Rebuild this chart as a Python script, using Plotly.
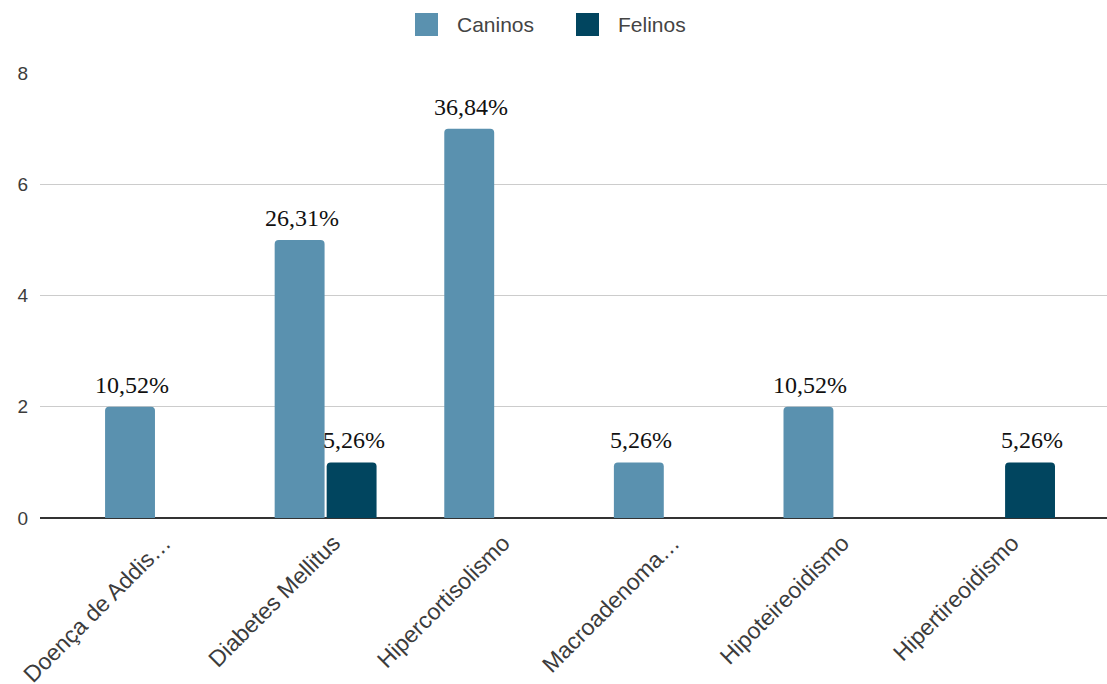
import plotly.graph_objects as go

# Endocrinopatias por espécie
categorias = ["Doença de Addis…", "Diabetes Mellitus", "Hipercortisolismo",
              "Macroadenoma…", "Hipoteireoidismo", "Hipertireoidismo"]
caninos = [2, 5, 7, 1, 2, 0]
felinos = [0, 1, 0, 0, 0, 1]
rotulos_caninos = ["10,52%", "26,31%", "36,84%", "5,26%", "10,52%", ""]
rotulos_felinos = ["", "5,26%", "", "", "", "5,26%"]
y_ticks = [0, 2, 4, 6, 8]

COR_CAN = "#5a91af"
COR_FEL = "#01455f"
SANS = "Arial, Liberation Sans, sans-serif"

W, H = 1107, 684
L, R, T, B = 40, 0, 73, 166
plot_w = W - L - R
plot_h = H - T - B


def px_to_paper(x, y):
    return (x - L) / plot_w, (H - B - y) / plot_h


fig = go.Figure()
for nome, vals, cor in [("Caninos", caninos, COR_CAN), ("Felinos", felinos, COR_FEL)]:
    fig.add_trace(go.Bar(
        name=nome, x=categorias, y=vals,
        marker=dict(color=cor, line=dict(width=0), cornerradius=4),
        showlegend=False, hoverinfo="x+y",
    ))

# value labels above the bars
annots = []
for rotulos, vals, shift in [(rotulos_caninos, caninos, -26), (rotulos_felinos, felinos, 26)]:
    for cat, v, t in zip(categorias, vals, rotulos):
        if not t:
            continue
        annots.append(dict(
            x=cat, y=v, xref="x", yref="y", text=t, showarrow=False,
            xanchor="center", yanchor="bottom", xshift=shift + 2, yshift=7,
            font=dict(family="Liberation Serif", size=24, color="#111"),
        ))

# custom legend at the top
shapes = []
for nome, cor, sx, tx in [("Caninos", COR_CAN, 415, 455), ("Felinos", COR_FEL, 576, 616)]:
    x0, y0 = px_to_paper(sx, 36)
    x1, y1 = px_to_paper(sx + 23, 13)
    shapes.append(dict(type="rect", xref="paper", yref="paper", x0=x0, x1=x1, y0=y0, y1=y1,
                       fillcolor=cor, line=dict(width=0), layer="above"))
    ax, ay = px_to_paper(tx, 24)
    annots.append(dict(x=ax, y=ay, xref="paper", yref="paper", text=nome, showarrow=False,
                       xanchor="left", yanchor="middle",
                       font=dict(family=SANS, size=21, color="#444")))

fig.update_layout(
    width=W, height=H,
    margin=dict(l=L, r=R, t=T, b=B),
    paper_bgcolor="white", plot_bgcolor="white",
    barmode="group", bargap=0.387, bargroupgap=0.04,
    showlegend=False,
    annotations=annots, shapes=shapes,
    font=dict(family=SANS, color="#444"),
)
fig.update_xaxes(
    type="category", range=[-0.684, 5.607], tickangle=-45,
    tickfont=dict(family=SANS, size=23, color="#3c3c3c"),
    showgrid=False, showline=False, ticks="", ticklen=0,
    ticklabelstandoff=6, ticklabelshift=8, automargin=False,
)
fig.update_yaxes(
    range=[0, 8], tickvals=y_ticks, ticktext=[str(v) for v in y_ticks],
    showgrid=True, gridcolor="#cccccc", gridwidth=1,
    zeroline=True, zerolinecolor="#333333", zerolinewidth=2,
    showline=False, ticks="", ticklabelstandoff=11, automargin=False,
    tickfont=dict(family=SANS, size=19, color="#3c3c3c"),
)

fig.write_html("out.html")
